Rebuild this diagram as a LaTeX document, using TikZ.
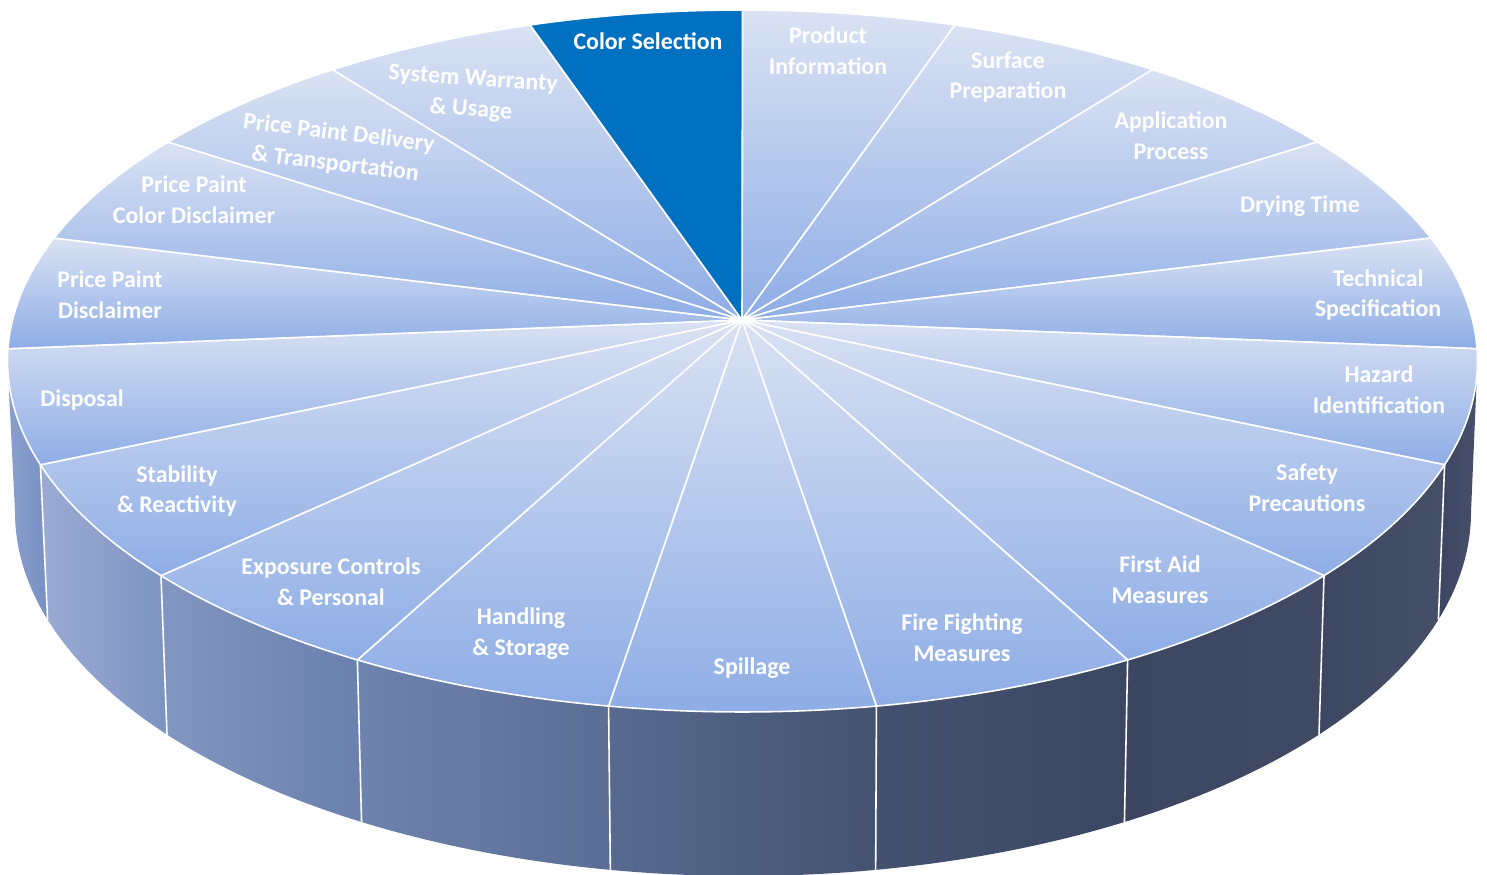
\documentclass[tikz,border=0pt]{standalone}
\usepackage{fontspec}
\setmainfont{Carlito}
\definecolor{slicetop}{HTML}{DAE2F3}
\definecolor{slicebot}{HTML}{8EADE6}
\definecolor{selblue}{HTML}{0070C0}

\begin{document}
\begin{tikzpicture}[
  x=0.02cm, y=0.02cm,
  slice/.style={draw=white, line width=0.9pt, line join=round, top color=slicetop, bottom color=slicebot},
  selslice/.style={draw=white, line width=0.9pt, line join=round, fill=selblue},
  rimline/.style={white, line width=0.9pt},
  sectxt/.style={text=white, font=\fontsize{13.6}{17.5}\selectfont\bfseries, align=center}
]
\useasboundingbox (0,0) rectangle (1487,875);

\coordinate (hub) at (742,555);

% side wall, one panel per slice
\foreach \a/\b/\cl/\cr in {180/197.2/8A9FCC/7890C4, 197.2/217.7/9AACD4/7D93C0,
    217.7/238.4/8196C0/6A80AD, 238.4/259.5/6E83AD/5A6D95, 259.5/280.5/576A8F/455270,
    280.5/301.6/44516E/3C4762, 301.6/322.3/3C4660/404A64, 322.3/342.8/3D4761/454F68,
    342.8/360/3C4660/46506A}{
  \definecolor{panl}{HTML}{\cl}
  \definecolor{panr}{HTML}{\cr}
  \shade[left color=panl, right color=panr]
    ({742.5+735*cos(\a)},{514+351*sin(\a)})
    arc[start angle=\a, end angle=\b, x radius=14.7cm, y radius=7.02cm]
    -- ({743+728*cos(\b)},{363+364*sin(\b)})
    arc[start angle=\b, end angle=\a, x radius=14.56cm, y radius=7.28cm] -- cycle;
}
\foreach \t in {197.2,217.7,238.4,259.5,280.5,301.6,322.3,342.8}
  \draw[rimline] ({742.5+735*cos(\t)},{514+351*sin(\t)}) -- ({743+728*cos(\t)},{363+364*sin(\t)});

% top slices
\foreach \a/\b in {90/73.2, 73.2/56.1, 56.1/38.6, 38.6/20.5, 20.5/2, 2/-17.2, -17.2/-37.7,
    -37.7/-58.4, -58.4/-79.5, -79.5/-100.5, -100.5/-121.6, -121.6/-142.3, -142.3/-162.8,
    -162.8/-182, -182/-200.5, -200.5/-218.6, -218.6/-236.1, -236.1/-253.2}
  \path[slice] (hub) -- ({742.5+735*cos(\a)},{514+351*sin(\a)})
    arc[start angle=\a, end angle=\b, x radius=14.7cm, y radius=7.02cm] -- cycle;
\path[selslice] (hub) -- ({742.5+735*cos(106.8)},{514+351*sin(106.8)})
  arc[start angle=106.8, end angle=90, x radius=14.7cm, y radius=7.02cm] -- cycle;

% labels
\node[sectxt] (colsel) at (648,834) {Color Selection};
\node[sectxt] (prodinfo) at (828,824) {Product\\Information};
\node[sectxt] (surface) at (1008,798) {Surface\\Preparation};
\node[sectxt] (applic) at (1171,739) {Application\\Process};
\node[sectxt] (drying) at (1300,669) {Drying Time};
\node[sectxt] (techspec) at (1378,580) {Technical\\Specification};
\node[sectxt] (hazard) at (1379,485) {Hazard\\Identification};
\node[sectxt] (safety) at (1307,387) {Safety\\Precautions};
\node[sectxt] (firstaid) at (1160,295) {First Aid\\Measures};
\node[sectxt] (fire) at (962,237) {Fire Fighting\\Measures};
\node[sectxt] (spill) at (752,207) {Spillage};
\node[sectxt] (handling) at (521,241) {Handling\\\& Storage};
\node[sectxt] (exposure) at (331,293) {Exposure Controls\\\& Personal};
\node[sectxt] (stability) at (177,384) {Stability\\\& Reactivity};
\node[sectxt] (disposal) at (82,475) {Disposal};
\node[sectxt] (ppdisc) at (110,580) {Price Paint\\Disclaimer};
\node[sectxt] (ppcolor) at (194,675) {Price Paint\\Color Disclaimer};
\node[sectxt, rotate=-7] (ppdeliv) at (337,726) {Price Paint Delivery\\\& Transportation};
\node[sectxt, rotate=-4] (warranty) at (472,780) {System Warranty\\\& Usage};

\end{tikzpicture}
\end{document}
